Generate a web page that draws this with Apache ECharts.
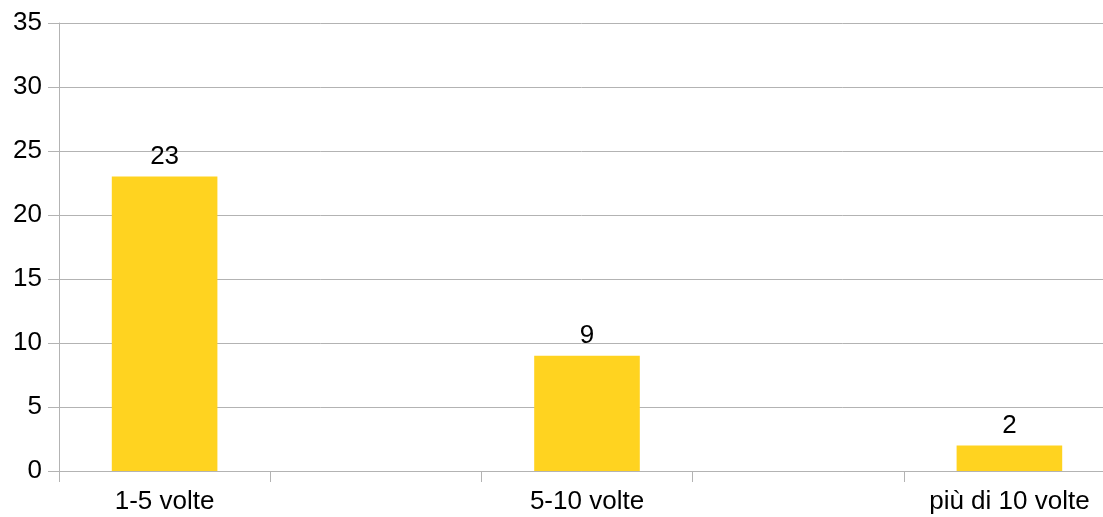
<!DOCTYPE html>
<html>
<head>
<meta charset="utf-8">
<script src="https://cdn.jsdelivr.net/npm/echarts@6/dist/echarts.min.js"></script>
<style>html,body{margin:0;padding:0;background:#fff;}#c{width:1103px;height:517px;}</style>
</head>
<body>
<div id="c"></div>
<script>
const categories = ['1-5 volte', '', '5-10 volte', '', 'più di 10 volte'];
const values = [23, '-', 9, '-', 2];
const yTicks = { min: 0, max: 35, interval: 5 };

const chart = echarts.init(document.getElementById('c'), null, { renderer: 'canvas' });
const font = 'Liberation Sans, Arial, sans-serif';
chart.setOption({
  animation: false,
  backgroundColor: '#ffffff',
  grid: { left: 59, right: -12, top: 23, bottom: 46, containLabel: false, outerBoundsMode: 'none' },
  xAxis: {
    type: 'category',
    data: categories,
    boundaryGap: true,
    axisLine: { show: true, lineStyle: { color: '#b3b3b3', width: 1 } },
    axisTick: { show: true, length: 11, alignWithLabel: false, interval: 0, lineStyle: { color: '#b3b3b3' } },
    axisLabel: { interval: 0, color: '#000', fontFamily: font, fontSize: 26, margin: 18 },
    splitLine: { show: false }
  },
  yAxis: {
    type: 'value',
    min: yTicks.min, max: yTicks.max, interval: yTicks.interval,
    axisLine: { show: true, lineStyle: { color: '#b3b3b3', width: 1 } },
    axisTick: { show: true, length: 11, lineStyle: { color: '#b3b3b3' } },
    axisLabel: { color: '#000', fontFamily: font, fontSize: 26, margin: 17 },
    splitLine: { show: true, lineStyle: { color: '#b3b3b3', width: 1 } }
  },
  series: [{
    type: 'bar',
    data: values,
    barWidth: '50%',
    itemStyle: { color: '#ffd320' },
    label: { show: true, position: 'top', distance: 7, color: '#000', fontFamily: font, fontSize: 26 }
  }]
});
</script>
</body>
</html>
